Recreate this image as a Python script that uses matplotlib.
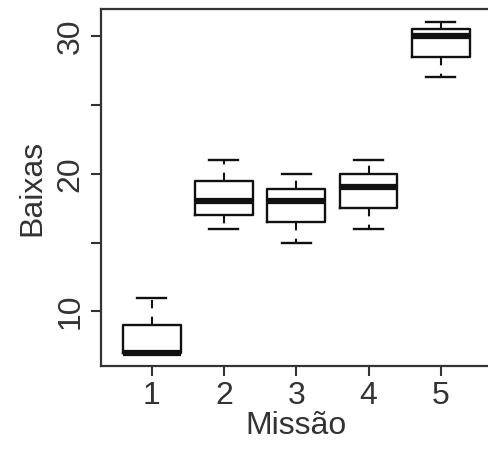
import matplotlib
matplotlib.use("Agg")
import matplotlib.pyplot as plt

plt.rcParams['font.family'] = ['Liberation Sans', 'DejaVu Sans']

missions = ["1", "2", "3", "4", "5"]
whislo = [7, 16, 15, 16, 27]
q1 = [7, 17, 16.5, 17.5, 28.5]
med = [7, 18, 18, 19, 30]
q3 = [9, 19.5, 18.9, 20, 30.5]
whishi = [11, 21, 20, 21, 31]

stats = []
for i, lab in enumerate(missions):
    stats.append(dict(label=lab, whislo=whislo[i], q1=q1[i], med=med[i],
                      q3=q3[i], whishi=whishi[i], fliers=[]))

fig = plt.figure(figsize=(4.89, 4.5), dpi=100)
ax = fig.add_axes([0.2065, 0.1867, 1.005 - 0.2065, 0.98 - 0.1867])

col = "#111111"
ax.bxp(stats, positions=range(1, 6), widths=0.8, showfliers=False,
       boxprops=dict(color=col, linewidth=1.7),
       medianprops=dict(color=col, linewidth=4.5, solid_capstyle='butt'),
       whiskerprops=dict(color=col, linewidth=1.5, linestyle=(0, (4, 4))),
       capprops=dict(color=col, linewidth=1.7), capwidths=0.4)

ax.set_xlim(0.3, 5.7)
ax.set_ylim(6.04, 31.96)
ax.set_yticks([10, 15, 20, 25, 30])
ax.set_yticklabels(["10", "", "20", "", "30"], rotation=90, va='center')
ax.set_xticks(range(1, 6))
ax.set_xticklabels(missions)

for s in ax.spines.values():
    s.set_linewidth(1.6)
    s.set_color("#333333")

ax.tick_params(axis='both', length=7, width=1.5, color="#333333",
               labelsize=23, labelcolor="#333333", pad=4)
ax.set_xlabel("Missão", fontsize=23, color="#333333", labelpad=0)
ax.set_ylabel("Baixas", fontsize=23, color="#333333", labelpad=6)

fig.savefig("out.png", dpi=100)
